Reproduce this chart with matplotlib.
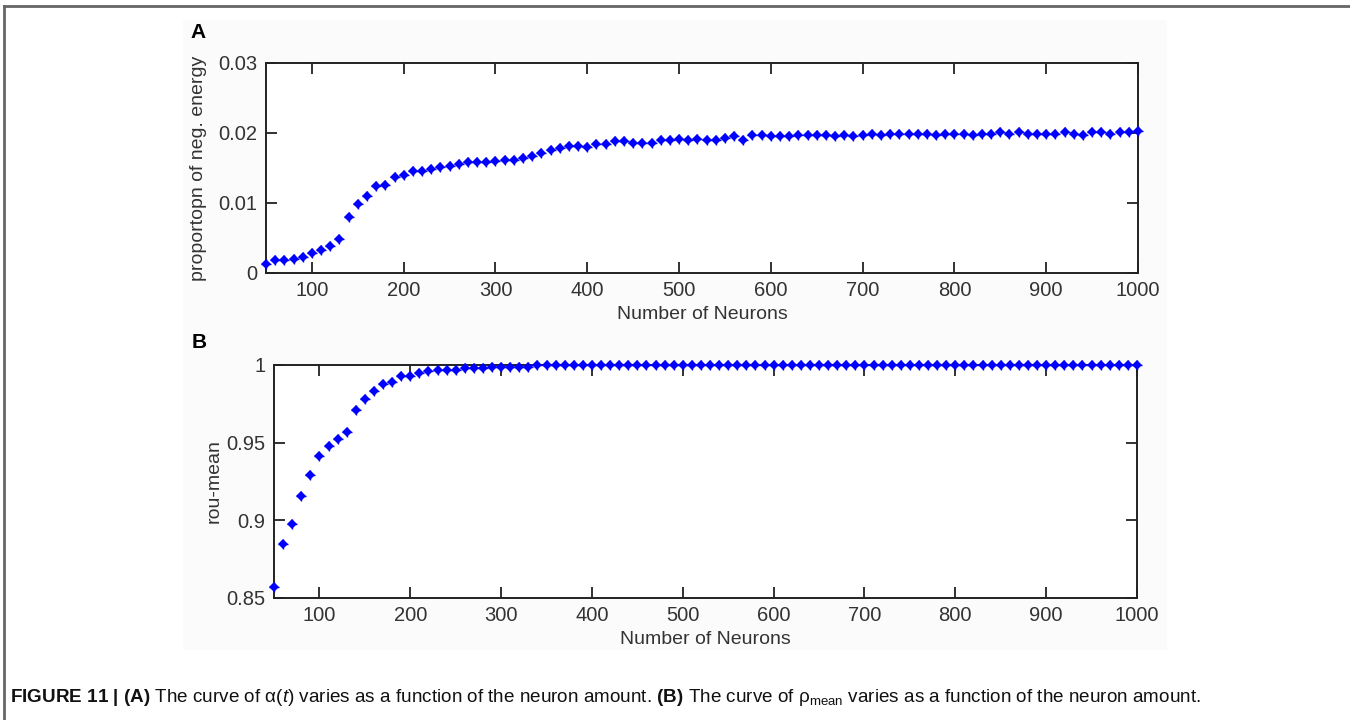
import numpy as np
import matplotlib
matplotlib.use('Agg')
import matplotlib.pyplot as plt
from matplotlib.patches import Rectangle
from matplotlib.lines import Line2D

plt.rcParams['font.family'] = ['Liberation Sans', 'DejaVu Sans']
plt.rcParams['mathtext.fontset'] = 'custom'
plt.rcParams['mathtext.rm'] = 'Liberation Sans'
plt.rcParams['mathtext.it'] = 'Liberation Sans:italic'
plt.rcParams['mathtext.bf'] = 'Liberation Sans:bold'

# number of neurons, 50 .. 1000 in steps of 10
neurons = np.arange(50, 1001, 10)

# (A) proportion of negative energy
neg_energy = [
    0.0013, 0.0018, 0.0018, 0.0020, 0.0023, 0.0029, 0.0033, 0.0038, 0.0049, 0.0080,
    0.0098, 0.0110, 0.0124, 0.0126, 0.0137, 0.0140, 0.0146, 0.0146, 0.0148, 0.0151,
    0.0153, 0.0155, 0.0158, 0.0158, 0.0158, 0.0160, 0.0162, 0.0162, 0.0164, 0.0167,
    0.0171, 0.0175, 0.0178, 0.0182, 0.0182, 0.0180, 0.0184, 0.0184, 0.0188, 0.0188,
    0.0186, 0.0186, 0.0186, 0.0190, 0.0190, 0.0192, 0.0190, 0.0192, 0.0190, 0.0190,
    0.0193, 0.0195, 0.0190, 0.0197, 0.0197, 0.0195, 0.0195, 0.0195, 0.0197, 0.0197,
    0.0197, 0.0197, 0.0195, 0.0197, 0.0195, 0.0197, 0.0199, 0.0197, 0.0199, 0.0199,
    0.0199, 0.0199, 0.0199, 0.0197, 0.0199, 0.0199, 0.0199, 0.0197, 0.0199, 0.0199,
    0.0201, 0.0199, 0.0201, 0.0199, 0.0199, 0.0199, 0.0199, 0.0201, 0.0199, 0.0197,
    0.0201, 0.0201, 0.0199, 0.0201, 0.0201, 0.0203,
]

# (B) rou-mean
rou_mean = [
    0.8571, 0.8847, 0.8976, 0.9154, 0.9295, 0.9415, 0.9481, 0.9522, 0.9571, 0.9711,
    0.9781, 0.9831, 0.9880, 0.9889, 0.9929, 0.9929, 0.9949, 0.9959, 0.9970, 0.9970,
    0.9970, 0.9979, 0.9979, 0.9979, 0.9989, 0.9989, 0.9989, 0.9989, 0.9989, 0.9998,
] + [1.0] * 66

fig = plt.figure(figsize=(13.5, 7.2), dpi=100)
W, H = 1350, 720

# very light grey backdrop behind the two panels
fig.patches.append(Rectangle((183 / W, 1 - 650 / H), (1167 - 183) / W, (650 - 20) / H,
                             transform=fig.transFigure, facecolor='#fbfbfb',
                             edgecolor='none', zorder=-5))
# page frame: top rule and left rule
fig.lines.append(Line2D([4 / W, 1], [1 - 6 / H, 1 - 6 / H], transform=fig.transFigure,
                        color='#666666', lw=2))
fig.lines.append(Line2D([4 / W, 4 / W], [0, 1 - 6 / H], transform=fig.transFigure,
                        color='#666666', lw=2))


def style_axes(ax):
    ax.set_facecolor('white')
    ax.set_zorder(2)
    for s in ax.spines.values():
        s.set_color('#222222')
        s.set_linewidth(1.4)
    ax.tick_params(direction='in', length=8, width=1.3, color='#222222',
                   top=True, right=True, labelsize=14.5, labelcolor='#333333', pad=6)


def draw_points(ax, y):
    ax.plot(neurons, y, linestyle='none', marker='D', markersize=5.2,
            color='#0000ff', markeredgewidth=0, clip_on=False, zorder=3)
    ax.plot(neurons, y, linestyle='none', marker='+', markersize=6.5,
            color='#0000ff', markeredgewidth=1.0, clip_on=False, zorder=3)


# panel A
axA = fig.add_axes([266 / W, 1 - 273 / H, (1138 - 266) / W, (273 - 63) / H])
style_axes(axA)
draw_points(axA, neg_energy)
axA.set_xlim(50, 1000)
axA.set_ylim(0, 0.03)
axA.set_xticks(np.arange(100, 1001, 100))
axA.set_yticks([0, 0.01, 0.02, 0.03])
axA.set_yticklabels(['0', '0.01', '0.02', '0.03'])
axA.set_xlabel('Number of Neurons', fontsize=14, color='#333333', labelpad=4)
axA.set_ylabel('proportopn of neg. energy', fontsize=14, color='#333333', labelpad=8)
fig.text(198 / W, 1 - 32 / H, 'A', fontsize=15, fontweight='bold', ha='center', va='center')

# panel B
axB = fig.add_axes([274 / W, 1 - 598 / H, (1137 - 274) / W, (598 - 365) / H])
style_axes(axB)
draw_points(axB, rou_mean)
axB.set_xlim(50, 1000)
axB.set_ylim(0.85, 1.0)
axB.set_xticks(np.arange(100, 1001, 100))
axB.set_yticks([0.85, 0.9, 0.95, 1.0])
axB.set_yticklabels(['0.85', '0.9', '0.95', '1'])
axB.set_xlabel('Number of Neurons', fontsize=14, color='#333333', labelpad=4)
axB.set_ylabel('rou-mean', fontsize=14, color='#333333', labelpad=3)
fig.text(199 / W, 1 - 342 / H, 'B', fontsize=15, fontweight='bold', ha='center', va='center')

caption = (r'$\mathbf{FIGURE\ 11\ |\ (A)}$ The curve of $\mathrm{\alpha}(t)$ varies as a function '
           r'of the neuron amount. $\mathbf{(B)}$ The curve of $\mathrm{\rho}_{\mathrm{mean}}$ '
           r'varies as a function of the neuron amount.')
fig.text(10 / W, 1 - 698 / H, caption, fontsize=13.6, ha='left', va='center', color='#111111')

fig.savefig('out.png', dpi=100, facecolor='white')
